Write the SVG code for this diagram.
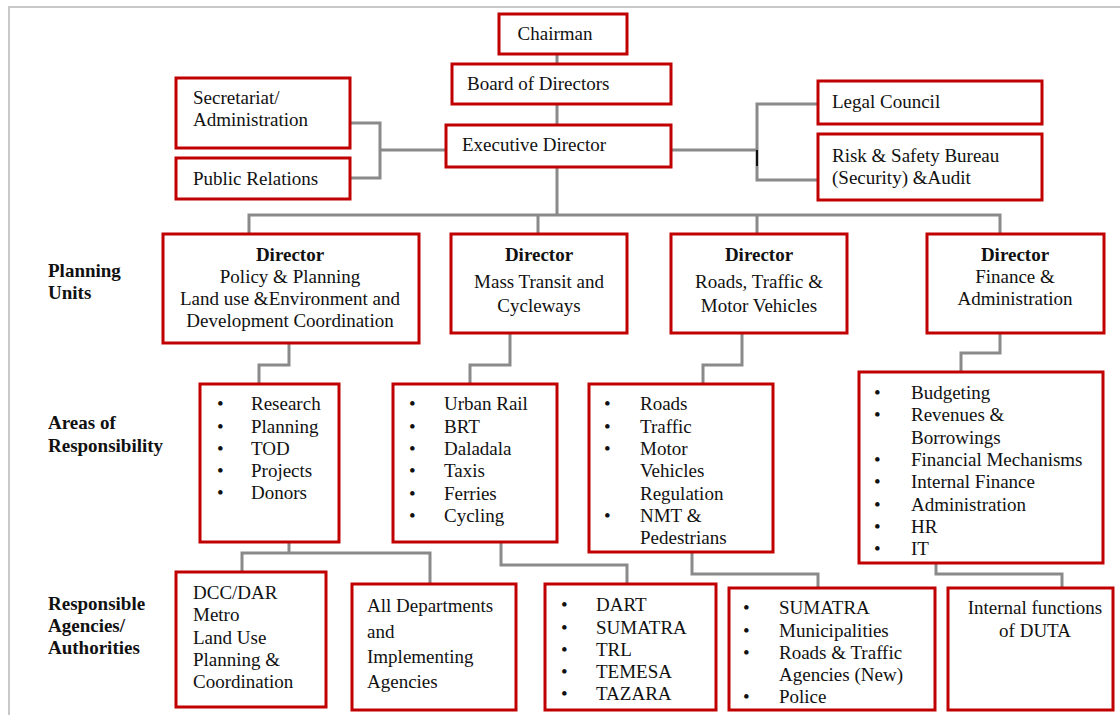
<svg xmlns="http://www.w3.org/2000/svg" width="1120" height="715" viewBox="0 0 1120 715" font-family="'Liberation Serif', Tinos, 'Times New Roman', 'DejaVu Serif', serif">
<style>
.box{fill:#fff;stroke:#c00000;stroke-width:3}
.t{font-family:'Liberation Serif', Tinos, 'Times New Roman', 'DejaVu Serif', serif;font-size:19px;fill:#111}
.b{font-weight:bold}
.c{text-anchor:middle}
.ln{fill:none;stroke:#8a8a8a;stroke-width:3}
.frame{fill:none;stroke:#c8c8c8;stroke-width:2}
</style>
<rect width="1120" height="715" fill="#fff"/>
<path class="frame" d="M9 715 V7 H1120"/>

<g id="connectors">
<path class="ln" d="M557 54 V64 M557 104 V125 M557 167 V215"/>
<path class="ln" d="M249 234 V215 H1000 V234 M538 215 V234 M757 215 V234"/>
<path class="ln" d="M350 123 H380 V178 H350 M380 150 H446"/>
<path class="ln" d="M671 150 H757 M818 104 H757 V180 H818"/>
<path d="M757 150 V166" stroke="#111" stroke-width="2"/>
<path class="ln" d="M289 343 V365 H259 V384"/>
<path class="ln" d="M510 333 V365 H470 V384"/>
<path class="ln" d="M742 333 V365 H703 V384"/>
<path class="ln" d="M1000 333 V353 H961 V372"/>
<path class="ln" d="M289 542 V553 H242 V572 M242 553 H430 V584"/>
<path class="ln" d="M501 542 V565 H627 V584"/>
<path class="ln" d="M692 552 V574 H818 V588"/>
<path class="ln" d="M936 563 V574 H1062 V588"/>
</g>

<g id="labels">
<text class="t b" x="48" y="277">Planning</text>
<text class="t b" x="48" y="299">Units</text>
<text class="t b" x="48" y="429">Areas of</text>
<text class="t b" x="48" y="452">Responsibility</text>
<text class="t b" x="48" y="610">Responsible</text>
<text class="t b" x="48" y="632">Agencies/</text>
<text class="t b" x="48" y="654">Authorities</text>
</g>

<g id="chairman"><rect class="box" x="499" y="14" width="128" height="40"/><text class="t c" x="555" y="40">Chairman</text></g>
<g id="board"><rect class="box" x="452" y="64" width="219" height="40"/><text class="t" x="467" y="90">Board of Directors</text></g>
<g id="exec"><rect class="box" x="446" y="125" width="225" height="42"/><text class="t" x="462" y="151">Executive Director</text></g>
<g id="secretariat"><rect class="box" x="176" y="78" width="174" height="70"/><text class="t" x="193" y="104">Secretariat/</text><text class="t" x="193" y="126">Administration</text></g>
<g id="pr"><rect class="box" x="176" y="158" width="174" height="41"/><text class="t" x="193" y="185">Public Relations</text></g>
<g id="legal"><rect class="box" x="818" y="81" width="224" height="43"/><text class="t" x="832" y="108">Legal Council</text></g>
<g id="risk"><rect class="box" x="818" y="134" width="224" height="66"/><text class="t" x="832" y="162">Risk &amp; Safety Bureau</text><text class="t" x="832" y="184">(Security) &amp;Audit</text></g>

<g id="d1"><rect class="box" x="163" y="234" width="256" height="109"/>
<text class="t c b" x="290" y="261">Director</text>
<text class="t c" x="290" y="283">Policy &amp; Planning</text>
<text class="t c" x="290" y="305">Land use &amp;Environment and</text>
<text class="t c" x="290" y="327">Development Coordination</text></g>
<g id="d2"><rect class="box" x="451" y="234" width="176" height="99"/>
<text class="t c b" x="539" y="261">Director</text>
<text class="t c" x="539" y="288">Mass Transit and</text>
<text class="t c" x="539" y="312">Cycleways</text></g>
<g id="d3"><rect class="box" x="671" y="234" width="176" height="99"/>
<text class="t c b" x="759" y="261">Director</text>
<text class="t c" x="759" y="288">Roads, Traffic &amp;</text>
<text class="t c" x="759" y="312">Motor Vehicles</text></g>
<g id="d4"><rect class="box" x="927" y="234" width="177" height="99"/>
<text class="t c b" x="1015" y="261">Director</text>
<text class="t c" x="1015" y="283">Finance &amp;</text>
<text class="t c" x="1015" y="305">Administration</text></g>

<g id="a1"><rect class="box" x="200" y="384" width="139" height="158"/>
<g class="t"><text x="217" y="410">•</text><text x="251" y="410">Research</text>
<text x="217" y="433">•</text><text x="251" y="433">Planning</text>
<text x="217" y="455">•</text><text x="251" y="455">TOD</text>
<text x="217" y="477">•</text><text x="251" y="477">Projects</text>
<text x="217" y="499">•</text><text x="251" y="499">Donors</text></g></g>
<g id="a2"><rect class="box" x="393" y="384" width="164" height="158"/>
<g class="t"><text x="409" y="410">•</text><text x="444" y="410">Urban Rail</text>
<text x="409" y="433">•</text><text x="444" y="433">BRT</text>
<text x="409" y="455">•</text><text x="444" y="455">Daladala</text>
<text x="409" y="477">•</text><text x="444" y="477">Taxis</text>
<text x="409" y="500">•</text><text x="444" y="500">Ferries</text>
<text x="409" y="522">•</text><text x="444" y="522">Cycling</text></g></g>
<g id="a3"><rect class="box" x="589" y="384" width="184" height="168"/>
<g class="t"><text x="604" y="410">•</text><text x="640" y="410">Roads</text>
<text x="604" y="433">•</text><text x="640" y="433">Traffic</text>
<text x="604" y="455">•</text><text x="640" y="455">Motor</text>
<text x="640" y="477">Vehicles</text>
<text x="640" y="500">Regulation</text>
<text x="604" y="522">•</text><text x="640" y="522">NMT &amp;</text>
<text x="640" y="544">Pedestrians</text></g></g>
<g id="a4"><rect class="box" x="859" y="372" width="244" height="191"/>
<g class="t"><text x="874" y="399">•</text><text x="911" y="399">Budgeting</text>
<text x="874" y="421">•</text><text x="911" y="421">Revenues &amp;</text>
<text x="911" y="444">Borrowings</text>
<text x="874" y="466">•</text><text x="911" y="466">Financial Mechanisms</text>
<text x="874" y="488">•</text><text x="911" y="488">Internal Finance</text>
<text x="874" y="511">•</text><text x="911" y="511">Administration</text>
<text x="874" y="533">•</text><text x="911" y="533">HR</text>
<text x="874" y="555">•</text><text x="911" y="555">IT</text></g></g>

<g id="g1"><rect class="box" x="176" y="572" width="150" height="135"/>
<g class="t"><text x="193" y="599">DCC/DAR</text><text x="193" y="621">Metro</text><text x="193" y="644">Land Use</text><text x="193" y="666">Planning &amp;</text><text x="193" y="688">Coordination</text></g></g>
<g id="g2"><rect class="box" x="352" y="584" width="164" height="126"/>
<g class="t"><text x="367" y="612">All Departments</text><text x="367" y="638">and</text><text x="367" y="663">Implementing</text><text x="367" y="688">Agencies</text></g></g>
<g id="g3"><rect class="box" x="545" y="584" width="171" height="126"/>
<g class="t"><text x="561" y="611">•</text><text x="596" y="611">DART</text>
<text x="561" y="634">•</text><text x="596" y="634">SUMATRA</text>
<text x="561" y="656">•</text><text x="596" y="656">TRL</text>
<text x="561" y="678">•</text><text x="596" y="678">TEMESA</text>
<text x="561" y="700">•</text><text x="596" y="700">TAZARA</text></g></g>
<g id="g4"><rect class="box" x="729" y="588" width="206" height="122"/>
<g class="t"><text x="743" y="614">•</text><text x="779" y="614">SUMATRA</text>
<text x="743" y="637">•</text><text x="779" y="637">Municipalities</text>
<text x="743" y="659">•</text><text x="779" y="659">Roads &amp; Traffic</text>
<text x="779" y="681">Agencies (New)</text>
<text x="743" y="703">•</text><text x="779" y="703">Police</text></g></g>
<g id="g5"><rect class="box" x="948" y="588" width="165" height="122"/>
<text class="t c" x="1035" y="614">Internal functions</text>
<text class="t c" x="1035" y="637">of DUTA</text></g>
</svg>
